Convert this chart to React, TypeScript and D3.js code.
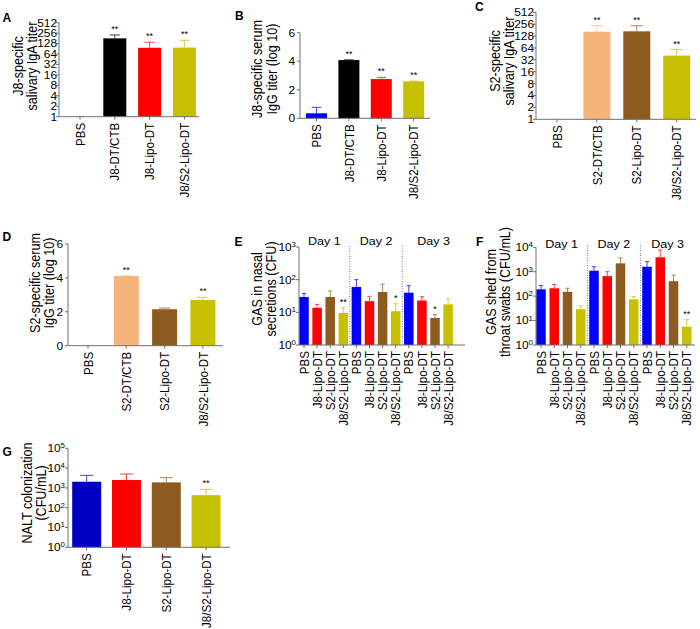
import React from "react";
import * as d3 from "d3";

// ---------------- DATA ----------------
// Panel A: J8-specific salivary IgA titer (log2 axis)
const aCategories = ["PBS", "J8-DT/CTB", "J8-Lipo-DT", "J8/S2-Lipo-DT"];
const aMeans = [1, 181, 97, 98];
const aSem = [0, 46, 43, 62];
const aStars = ["", "**", "**", "**"];

// Panel B: J8-specific serum IgG titer (log 10)
const bCategories = ["PBS", "J8-DT/CTB", "J8-Lipo-DT", "J8/S2-Lipo-DT"];
const bMeans = [0.35, 4.08, 2.75, 2.59];
const bSem = [0.42, 0.02, 0.12, 0.02];
const bStars = ["", "**", "**", "**"];

// Panel C: S2-specific salivary IgA titer
const cCategories = ["PBS", "S2-DT/CTB", "S2-Lipo-DT", "J8/S2-Lipo-DT"];
const cMeans = [1, 165, 169, 41];
const cSem = [0, 69, 65, 17];
const cStars = ["", "**", "**", "**"];

// Panel D: S2-specific serum IgG titer (log 10)
const dCategories = ["PBS", "S2-DT/CTB", "S2-Lipo-DT", "J8/S2-Lipo-DT"];
const dMeans = [0, 4.11, 2.15, 2.7];
const dSem = [0, 0.01, 0.07, 0.15];
const dStars = ["", "**", "", "**"];

// Panel E: GAS in nasal secretions (CFU), Day 1..3
const dayLabels = ["Day 1", "Day 2", "Day 3"];
const groupCategories = ["PBS", "J8-Lipo-DT", "S2-Lipo-DT", "J8/S2-Lipo-DT"];
const eMeans = [29.5, 13.8, 29.5, 9.6, 60, 22, 42, 10.8, 40, 23, 6.7, 17.5];
const eSem = [8.5, 3.7, 15.5, 4.2, 40, 8, 31, 7.6, 25, 7, 1.8, 8.5];
const eStars = ["", "", "", "**", "", "", "", "*", "", "", "*", ""];

// Panel F: GAS shed from throat swabs (CFU/mL)
const fMeans = [190, 210, 150, 29, 1100, 660, 2200, 74, 1600, 3900, 410, 5.6];
const fSem = [80, 90, 60, 11, 500, 340, 1500, 21, 1000, 3800, 320, 5.4];
const fStars = ["", "", "", "", "", "", "", "", "", "", "", "**"];

// Panel G: NALT colonization (CFU/mL)
const gCategories = ["PBS", "J8-Lipo-DT", "S2-Lipo-DT", "J8/S2-Lipo-DT"];
const gMeans = [2050, 2500, 1900, 430];
const gSem = [2250, 2500, 1400, 420];
const gStars = ["", "", "", "**"];

// Tick values
const log2Ticks = [1, 2, 4, 8, 16, 32, 64, 128, 256, 512];
const linTicks = [0, 2, 4, 6];
const eTicks = [1, 10, 100, 1000];
const fTicks = [1, 10, 100, 1000, 10000];
const gTicks = [1, 10, 100, 1000, 10000, 100000];

// ---------------- STYLE ----------------
const C = {
  blue: "#0000ff",
  navy: "#0000c4",
  red: "#ff0000",
  black: "#000000",
  olive: "#c6c000",
  brown: "#8e5b1f",
  peach: "#f5b47a",
};
const FONT = "'Liberation Sans', Arial, Helvetica, sans-serif";
const AXIS = "#707070";
const SX = 1.1; // slight horizontal stretch of lettering seen in the figure

function Txt(props: {
  x: number;
  y: number;
  size: number;
  anchor?: string;
  rot?: number;
  dy?: string;
  weight?: string;
  children: any;
}) {
  const t =
    `translate(${props.x},${props.y}) scale(${SX},1)` +
    (props.rot ? ` rotate(${props.rot})` : "");
  return (
    <text
      transform={t}
      fontSize={props.size}
      textAnchor={props.anchor || "start"}
      dy={props.dy}
      fontWeight={props.weight}
    >
      {props.children}
    </text>
  );
}

type PanelProps = {
  letter: string;
  letterX: number;
  letterY: number;
  categories: string[];
  means: number[];
  sems: number[];
  stars: string[];
  colors: string[];
  yScale: any;
  ticks: number[];
  pow10?: boolean;
  axisX: number;
  axisEnd: number;
  bottom: number;
  top: number;
  bandStart: number;
  step: number;
  barWidth: number;
  yLabel: string[];
  yLabelX: number[];
  yLabelY: number;
  groups?: string[];
  dayY?: number;
  sepTop?: number;
  tickGap?: number;
};

function Panel(p: PanelProps) {
  const n = p.categories.length;
  const pad = 1 - p.barWidth / p.step;
  const x = d3
    .scaleBand<number>()
    .domain(d3.range(n))
    .range([p.bandStart, p.bandStart + n * p.step])
    .paddingInner(pad)
    .paddingOuter(pad / 2);
  const bw = x.bandwidth();
  const y = p.yScale;
  const base = p.bottom;
  const gap = p.tickGap ?? 5;

  const seps: number[] = [];
  if (p.groups) {
    const g = n / p.groups.length;
    for (let k = 1; k < p.groups.length; k++) {
      const a = (x(k * g - 1) as number) + bw / 2;
      const b = (x(k * g) as number) + bw / 2;
      seps.push((a + b) / 2);
    }
  }
  const bounds = [p.axisX, ...seps, p.axisEnd];

  return (
    <g fontFamily={FONT}>
      <text x={p.letterX} y={p.letterY} fontSize={12} fontWeight="bold">
        {p.letter}
      </text>
      {p.yLabel.map((t, i) => (
        <Txt key={i} x={p.yLabelX[i]} y={p.yLabelY} rot={-90} anchor="middle" size={12.6}>
          {t}
        </Txt>
      ))}
      {seps.map((sx, i) => (
        <line
          key={i}
          x1={sx}
          x2={sx}
          y1={p.sepTop}
          y2={base}
          stroke="#555"
          strokeWidth={0.8}
          strokeDasharray="1,1.5"
        />
      ))}
      {p.groups &&
        p.groups.map((t, i) => (
          <Txt key={i} x={(bounds[i] + bounds[i + 1]) / 2} y={p.dayY as number} anchor="middle" size={11.4}>
            {t}
          </Txt>
        ))}
      {p.means.map((m, i) => {
        const x0 = x(i) as number;
        const cx = x0 + bw / 2;
        const yt = y(m);
        const hasBar = base - yt > 0.3;
        const ye = y(m + p.sems[i]);
        const cap = bw * 0.45;
        return (
          <g key={i}>
            {hasBar && p.sems[i] > 0 && (
              <g stroke={p.colors[i]} strokeWidth={1} opacity={0.75}>
                <line x1={cx} x2={cx} y1={yt} y2={ye} />
                <line x1={cx - cap / 2} x2={cx + cap / 2} y1={ye} y2={ye} />
              </g>
            )}
            {hasBar && (
              <rect x={x0} y={yt} width={bw} height={base - yt} fill={p.colors[i]} />
            )}
            {p.stars[i] && (
              <text x={cx} y={Math.min(ye, yt) - 3} textAnchor="middle" fontSize={9}>
                {p.stars[i]}
              </text>
            )}
          </g>
        );
      })}
      <line x1={p.axisX} x2={p.axisX} y1={p.top} y2={base} stroke={AXIS} strokeWidth={1} />
      <line x1={p.axisX} x2={p.axisEnd} y1={base} y2={base} stroke={AXIS} strokeWidth={1} />
      {p.ticks.map((t, i) => {
        const ty = y(t);
        const exp = Math.round(Math.log10(Math.max(t, 1)));
        return (
          <g key={i}>
            <line x1={p.axisX - 3} x2={p.axisX} y1={ty} y2={ty} stroke={AXIS} strokeWidth={1} />
            {p.pow10 ? (
              <Txt x={p.axisX - gap} y={ty} dy="0.36em" anchor="end" size={10.8}>
                10
                <tspan dy="-0.55em" fontSize={7.2}>
                  {exp}
                </tspan>
              </Txt>
            ) : (
              <Txt x={p.axisX - gap} y={ty} dy="0.36em" anchor="end" size={10.8}>
                {t}
              </Txt>
            )}
          </g>
        );
      })}
      {p.categories.map((c, i) => {
        const cx = (x(i) as number) + bw / 2;
        return (
          <g key={i}>
            <line x1={cx} x2={cx} y1={base} y2={base + 3} stroke={AXIS} strokeWidth={1} />
            <Txt x={cx + 4.6} y={base + 6} rot={-90} anchor="end" size={11.6}>
              {c}
            </Txt>
          </g>
        );
      })}
    </g>
  );
}

const fourA = [C.blue, C.black, C.red, C.olive];
const fourC = [C.blue, C.peach, C.brown, C.olive];
const dayColors = [C.blue, C.red, C.brown, C.olive];
const twelve = [...dayColors, ...dayColors, ...dayColors];
const gColors = [C.navy, C.red, C.brown, C.olive];
const grouped = [...groupCategories, ...groupCategories, ...groupCategories];

export default function App() {
  return (
    <svg
      width={700}
      height={629}
      style={{ position: "absolute", left: 0, top: 0, background: "#fff" }}
    >
      <rect width={700} height={629} fill="#fff" />
      <Panel
        letter="A" letterX={2.5} letterY={21.5}
        categories={aCategories} means={aMeans} sems={aSem} stars={aStars} colors={fourA}
        yScale={d3.scaleLog().base(2).domain([1, 512]).range([116.7, 22.7])}
        ticks={log2Ticks}
        axisX={59} axisEnd={199} bottom={116.7} top={22.7}
        bandStart={62.6} step={34.8} barWidth={23}
        yLabel={["J8-specific", "salivary IgA titer"]} yLabelX={[23, 36.5]}
        yLabelY={66} tickGap={2}
      />
      <Panel
        letter="B" letterX={235} letterY={20}
        categories={bCategories} means={bMeans} sems={bSem} stars={bStars} colors={fourA}
        yScale={d3.scaleLinear().domain([0, 6]).range([118.3, 32.7])}
        ticks={linTicks}
        axisX={300} axisEnd={430} bottom={118.3} top={32.7}
        bandStart={300.3} step={32.4} barWidth={21}
        yLabel={["J8-specific serum", "IgG titer (log 10)"]} yLabelX={[262, 277]}
        yLabelY={69} tickGap={5}
      />
      <Panel
        letter="C" letterX={475} letterY={11}
        categories={cCategories} means={cMeans} sems={cSem} stars={cStars} colors={fourC}
        yScale={d3.scaleLog().base(2).domain([1, 512]).range([119.3, 12.3])}
        ticks={log2Ticks}
        axisX={536} axisEnd={696} bottom={119.3} top={12.3}
        bandStart={537.05} step={39.9} barWidth={27}
        yLabel={["S2-specific", "salivary IgA titer"]} yLabelX={[500, 513.5]}
        yLabelY={61} tickGap={2}
      />
      <Panel
        letter="D" letterX={2.5} letterY={240.7}
        categories={dCategories} means={dMeans} sems={dSem} stars={dStars} colors={fourC}
        yScale={d3.scaleLinear().domain([0, 6]).range([345.7, 244])}
        ticks={linTicks}
        axisX={68} axisEnd={223} bottom={345.7} top={244}
        bandStart={68.85} step={38.3} barWidth={25}
        yLabel={["S2-specific serum", "IgG titer (log 10)"]} yLabelX={[40, 54]}
        yLabelY={283} tickGap={5}
      />
      <Panel
        letter="E" letterX={234.5} letterY={245.5}
        categories={grouped} means={eMeans} sems={eSem} stars={eStars} colors={twelve}
        yScale={d3.scaleLog().domain([1, 1000]).range([345, 247])}
        ticks={eTicks} pow10
        axisX={299} axisEnd={465} bottom={345} top={247}
        bandStart={297.45} step={13.1} barWidth={9.5}
        yLabel={["GAS in nasal", "secretions (CFU)"]} yLabelX={[262, 276]}
        yLabelY={289} groups={dayLabels} dayY={245} sepTop={246} tickGap={3}
      />
      <Panel
        letter="F" letterX={476} letterY={246}
        categories={grouped} means={fMeans} sems={fSem} stars={fStars} colors={twelve}
        yScale={d3.scaleLog().domain([1, 10000]).range([345, 247.3])}
        ticks={fTicks} pow10
        axisX={536} axisEnd={695} bottom={345} top={247.3}
        bandStart={534.38} step={13.25} barWidth={9.5}
        yLabel={["GAS shed from", "throat swabs (CFU/mL)"]} yLabelX={[496, 509.5]}
        yLabelY={292} groups={dayLabels} dayY={248} sepTop={245} tickGap={3}
      />
      <Panel
        letter="G" letterX={2.5} letterY={456}
        categories={gCategories} means={gMeans} sems={gSem} stars={gStars} colors={gColors}
        yScale={d3.scaleLog().domain([1, 100000]).range([547.3, 448.3])}
        ticks={gTicks} pow10
        axisX={68} axisEnd={230} bottom={547.3} top={448.3}
        bandStart={66.8} step={39.8} barWidth={29}
        yLabel={["NALT colonization", "(CFU/mL)"]} yLabelX={[32, 46]}
        yLabelY={493} tickGap={3}
      />
    </svg>
  );
}
